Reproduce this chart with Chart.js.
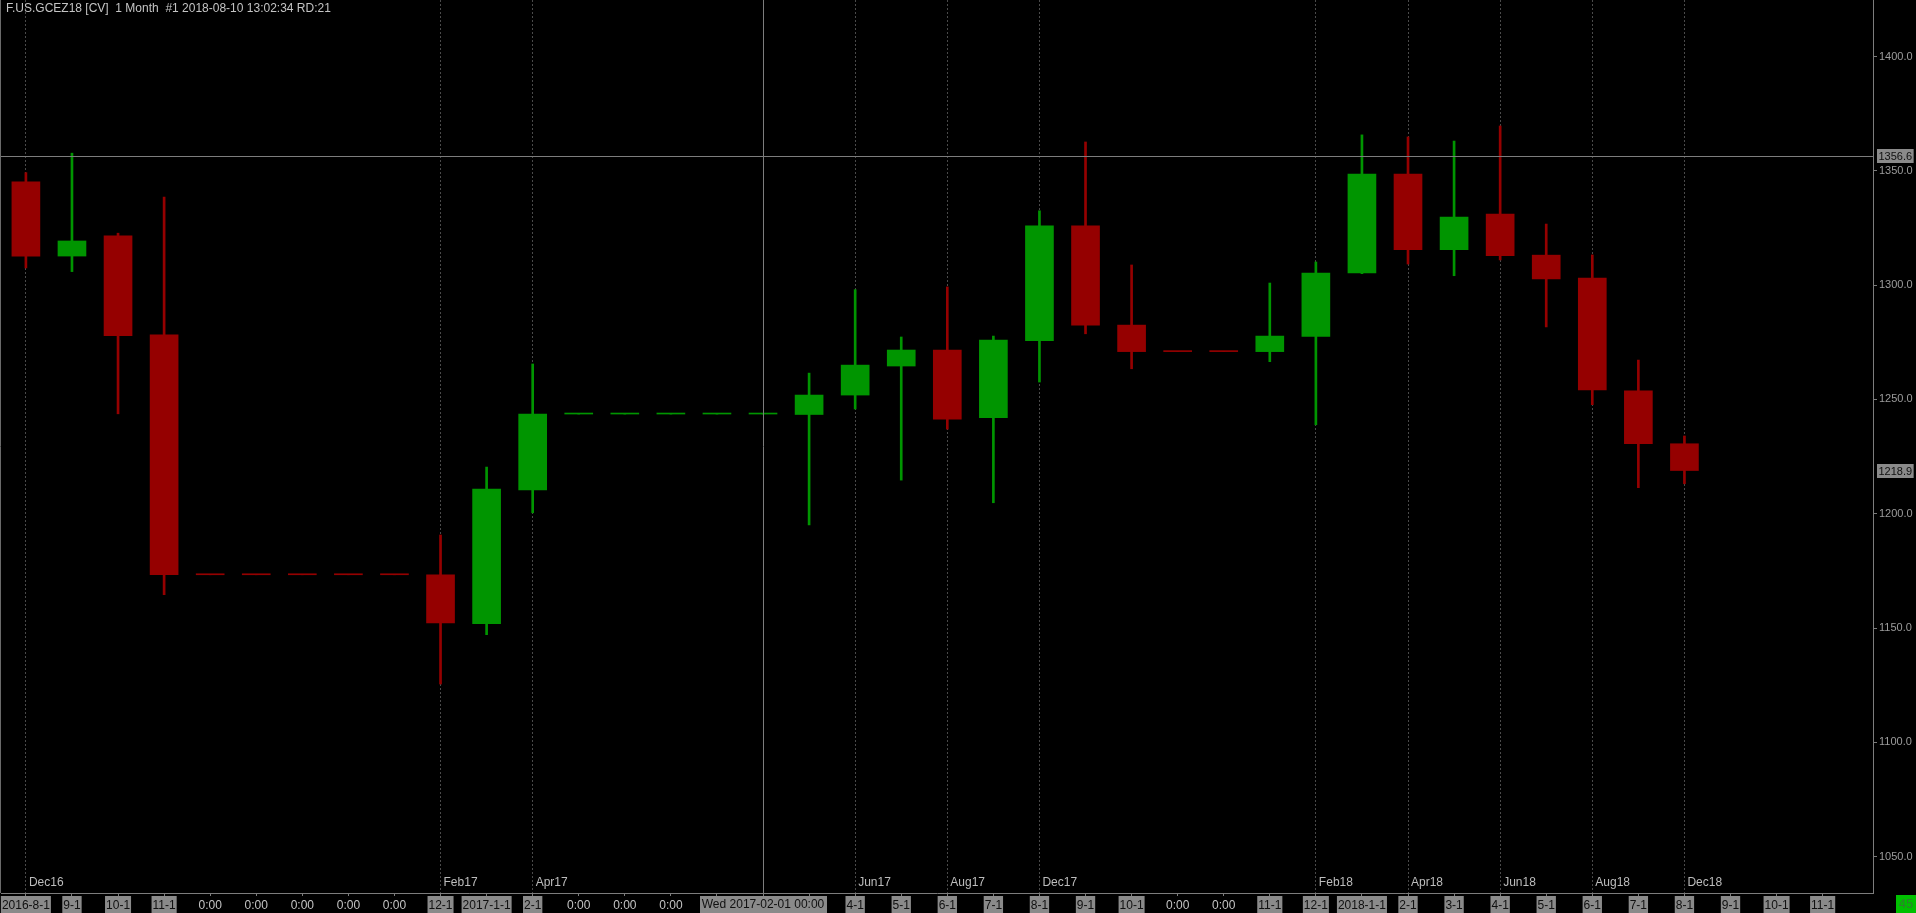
<!DOCTYPE html>
<html>
<head>
<meta charset="utf-8">
<script src="https://cdn.jsdelivr.net/npm/chart.js@4.4.1/dist/chart.umd.min.js"></script>
<style>
html,body{margin:0;padding:0;background:#000;overflow:hidden}
canvas{display:block}
</style>
</head>
<body>
<canvas id="chart" width="1916" height="913"></canvas>
<script>
const TITLE = 'F.US.GCEZ18 [CV]  1 Month  #1 2018-08-10 13:02:34 RD:21';

// one label per bar slot on the bottom axis
const SLOT_LABELS = ['2016-8-1','9-1','10-1','11-1','0:00','0:00','0:00','0:00','0:00','12-1',
  '2017-1-1','2-1','0:00','0:00','0:00','0:00','0:00','3-1','4-1','5-1',
  '6-1','7-1','8-1','9-1','10-1','0:00','0:00','11-1','12-1','2018-1-1',
  '2-1','3-1','4-1','5-1','6-1','7-1','8-1','9-1','10-1','11-1'];

// monthly OHLC, flat bars where there was no trading
const OPEN  = [1345.2,1312.7,1321.5,1278.2,1173.3,1173.3,1173.3,1173.3,1173.3,1173.3,
  1151.9,1210.4,1243.6,1243.6,1243.6,1243.6,1243.6,1243.4,1251.9,1264.6,
  1271.6,1242.0,1275.7,1325.9,1282.5,1270.9,1270.9,1270.9,1277.5,1305.3,
  1348.6,1315.5,1331.1,1313.1,1303.1,1253.7,1230.6];
const HIGH  = [1349.2,1357.7,1322.7,1338.5,1173.3,1173.3,1173.3,1173.3,1173.3,1190.7,
  1220.4,1265.5,1243.6,1243.6,1243.6,1243.6,1243.6,1261.5,1298.0,1277.3,
  1299.2,1277.7,1332.5,1362.6,1308.8,1270.9,1270.9,1300.9,1310.1,1365.7,
  1364.8,1363.0,1369.6,1326.7,1313.2,1267.2,1234.0];
const LOW   = [1307.5,1305.9,1243.7,1164.6,1173.3,1173.3,1173.3,1173.3,1173.3,1125.5,
  1147.1,1200.4,1243.6,1243.6,1243.6,1243.6,1243.6,1195.1,1245.8,1214.7,
  1237.0,1204.8,1257.6,1278.7,1263.4,1270.9,1270.9,1266.5,1238.9,1305.0,
  1309.2,1304.1,1311.0,1281.7,1247.7,1211.4,1213.1];
const CLOSE = [1312.7,1319.3,1277.9,1173.3,1173.3,1173.3,1173.3,1173.3,1173.3,1152.2,
  1210.8,1243.6,1243.6,1243.6,1243.6,1243.6,1243.6,1251.9,1265.0,1271.6,
  1241.4,1276.0,1325.9,1282.5,1270.9,1270.9,1270.9,1277.7,1305.3,1348.6,
  1315.5,1329.8,1312.9,1302.7,1254.2,1230.6,1218.9];

const MONTH_SLOTS  = [0,9,11,18,20,22,28,30,32,34,36];
const MONTH_LABELS = ['Dec16','Feb17','Apr17','Jun17','Aug17','Dec17','Feb18','Apr18','Jun18','Aug18','Dec18'];

const Y_TICKS = [1050,1100,1150,1200,1250,1300,1350,1400];

const CROSS_SLOT = 16;
const CROSS_LABEL = 'Wed 2017-02-01 00:00';
const CROSS_PRICE = 1356.6;
const LAST_PRICE = 1218.9;
const BAR_COUNT = '45';

const RED = '#950000', GREEN = '#009500';
const FONT = "'Liberation Sans', Arial, sans-serif";

// flat bars keep the colour of the bar before them
const colors = [];
OPEN.forEach((o,i)=>{
  const c = CLOSE[i];
  colors.push(c>o ? GREEN : c<o ? RED : (colors[i-1] || RED));
});

function box(ctx, text, cx, cy, bg, fg, font){
  ctx.font = font;
  const w = ctx.measureText(text).width + 4;
  ctx.fillStyle = bg;
  ctx.fillRect(Math.round(cx - w/2), Math.round(cy - 8), Math.round(w), 17);
  ctx.fillStyle = fg;
  ctx.textAlign = 'center';
  ctx.textBaseline = 'middle';
  ctx.fillText(text, cx, cy + 1);
}

const overlay = {
  id: 'overlay',
  beforeDraw(chart){
    const ctx = chart.ctx;
    ctx.save();
    ctx.fillStyle = '#000';
    ctx.fillRect(0,0,chart.width,chart.height);
    ctx.restore();
  },
  afterDatasetsDraw(chart){
    const {ctx, chartArea:a, scales:{x,y}} = chart;
    ctx.save();
    ctx.lineWidth = 1;
    ctx.strokeStyle = '#6a6a6a';
    ctx.beginPath();
    ctx.moveTo(a.left-0.5, a.top); ctx.lineTo(a.left-0.5, a.bottom);
    ctx.stroke();
    // crosshair
    const cx = Math.round(x.getPixelForValue(CROSS_SLOT)) + 0.5;
    const cy = Math.round(y.getPixelForValue(CROSS_PRICE)) + 0.5;
    ctx.strokeStyle = '#7c7c7c';
    ctx.beginPath();
    ctx.moveTo(cx, a.top); ctx.lineTo(cx, a.bottom);
    ctx.moveTo(a.left, cy); ctx.lineTo(a.right, cy);
    ctx.stroke();
    // month names along the bottom of the plot
    ctx.font = '12px ' + FONT;
    ctx.fillStyle = '#bdbdbd';
    ctx.textAlign = 'left';
    ctx.textBaseline = 'middle';
    MONTH_SLOTS.forEach((s,i)=>{
      ctx.fillText(MONTH_LABELS[i], x.getPixelForValue(s) + 3, a.bottom - 10);
    });
    ctx.restore();
  },
  afterDraw(chart){
    const {ctx, chartArea:a, scales:{x,y}} = chart;
    ctx.save();
    ctx.font = '12px ' + FONT;
    ctx.fillStyle = '#c4c4c4';
    ctx.textAlign = 'left';
    ctx.textBaseline = 'middle';
    ctx.fillText(TITLE, 6, 9);
    // price boxes on the right axis
    const f11 = '11px ' + FONT;
    [CROSS_PRICE, LAST_PRICE].forEach(p=>{
      const py = Math.round(y.getPixelForValue(p));
      ctx.font = f11;
      const w = ctx.measureText(p.toFixed(1)).width + 3;
      ctx.fillStyle = '#8a8a8a';
      ctx.fillRect(a.right + 4, py - 7, w, 14);
      ctx.fillStyle = '#101010';
      ctx.textAlign = 'left';
      ctx.textBaseline = 'middle';
      ctx.fillText(p.toFixed(1), a.right + 5.5, py + 0.5);
    });
    // crosshair date on the bottom axis
    box(ctx, CROSS_LABEL, x.getPixelForValue(CROSS_SLOT), a.bottom + 11, '#8a8a8a', '#101010', '12px ' + FONT);
    // bar counter
    ctx.fillStyle = '#00c000';
    ctx.fillRect(1896, a.bottom + 2, 20, 18);
    ctx.fillStyle = '#2f7f2f';
    ctx.font = '13px ' + FONT;
    ctx.textAlign = 'center';
    ctx.textBaseline = 'middle';
    ctx.fillText(BAR_COUNT, 1906, a.bottom + 11.5);
    ctx.restore();
  }
};

const slots = OPEN.map((o,i)=>i);

new Chart(document.getElementById('chart').getContext('2d'), {
  type: 'bar',
  data: {
    datasets: [
      {label:'wick', data: slots.map(i=>({x:i, y:[LOW[i], HIGH[i]]})), backgroundColor: colors,
       barThickness: 2, grouped: false, order: 2},
      {label:'body', data: slots.map(i=>({x:i, y:[OPEN[i], CLOSE[i]]})), backgroundColor: colors,
       barThickness: 28, minBarLength: 1, grouped: false, order: 1}
    ]
  },
  options: {
    responsive: false,
    animation: false,
    devicePixelRatio: 1,
    layout: {padding: {left:1, top:0, right:0, bottom:0}},
    plugins: {legend:{display:false}, tooltip:{enabled:false}, title:{display:false}},
    scales: {
      x: {
        type: 'linear',
        min: -0.5405, max: 40.093,
        offset: false,
        bounds: 'data',
        afterBuildTicks: s => { s.ticks = SLOT_LABELS.map((l,i)=>({value:i})); },
        afterFit: s => { s.height = 20; s.paddingLeft = 0; s.paddingRight = 0; },
        grid: {
          offset: false,
          drawOnChartArea: true,
          color: c => (c.tick && MONTH_SLOTS.includes(c.tick.value)) ? '#4a4a4a' : 'rgba(0,0,0,0)',
          drawTicks: true, tickLength: 3, tickColor: '#7c7c7c', tickBorderDash: []
        },
        border: {display:true, color:'#7c7c7c', dash:[2,2]},
        ticks: {
          autoSkip: false, maxRotation: 0, padding: 2,
          font: {family: FONT, size: 12},
          callback: v => SLOT_LABELS[v] ?? '',
          color: c => SLOT_LABELS[c.index] === '0:00' ? '#c4c4c4' : '#101010',
          showLabelBackdrop: c => SLOT_LABELS[c.index] !== '0:00',
          backdropColor: '#8a8a8a',
          backdropPadding: {left:1, right:1, top:2, bottom:1}
        }
      },
      y: {
        position: 'right',
        min: 1034.1, max: 1424.7,
        beginAtZero: false,
        afterBuildTicks: s => { s.ticks = Y_TICKS.map(v=>({value:v})); },
        afterFit: s => { s.width = 43; s.paddingTop = 0; s.paddingBottom = 0; },
        grid: {drawOnChartArea:false, drawTicks:true, tickLength:4, tickColor:'#7c7c7c'},
        border: {display:true, color:'#7c7c7c'},
        ticks: {
          padding: 2, color: '#9c9c9c',
          font: {family: FONT, size: 11},
          callback: v => Number(v).toFixed(1)
        }
      }
    }
  },
  plugins: [overlay]
});
</script>
</body>
</html>
